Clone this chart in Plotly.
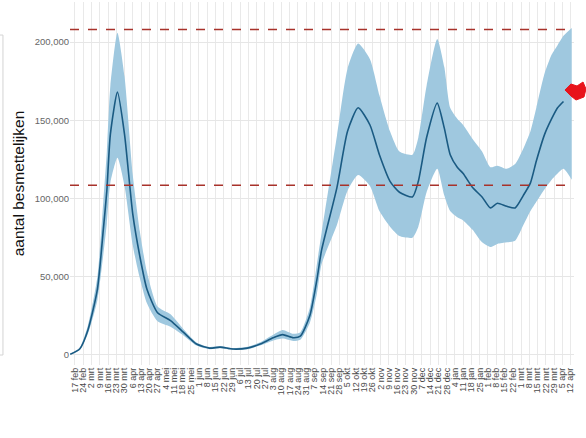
import pandas as pd
import plotly.graph_objects as go

# ---- data ----
line_dates = ["2020-02-13", "2020-02-21", "2020-02-28", "2020-03-07", "2020-03-12", "2020-03-15",
              "2020-03-18", "2020-03-24", "2020-03-30", "2020-04-06", "2020-04-12", "2020-04-18",
              "2020-04-27", "2020-05-08", "2020-05-19", "2020-05-30", "2020-06-10", "2020-06-19",
              "2020-06-30", "2020-07-12", "2020-07-23", "2020-08-03", "2020-08-11", "2020-08-20",
              "2020-08-26", "2020-09-03", "2020-09-09", "2020-09-13", "2020-09-26", "2020-10-05",
              "2020-10-14", "2020-10-24", "2020-11-01", "2020-11-10", "2020-11-18", "2020-11-29",
              "2020-12-04", "2020-12-11", "2020-12-20", "2020-12-26", "2020-12-31", "2021-01-06",
              "2021-01-11", "2021-01-19", "2021-01-27", "2021-02-03", "2021-02-09", "2021-02-17",
              "2021-02-24", "2021-03-03", "2021-03-09", "2021-03-14", "2021-03-21", "2021-03-27",
              "2021-04-01", "2021-04-06"]
besmettelijken = [500, 3800, 16000, 42000, 80000, 105000,
                  141000, 168000, 141000, 90000, 63000, 42000,
                  27000, 22000, 14500, 7000, 4400, 5000,
                  3800, 4400, 7000, 11000, 13000, 11000,
                  12000, 25000, 48000, 67000, 107000, 143000,
                  158000, 147000, 128000, 111000, 104000, 101000,
                  111000, 139000, 161000, 145000, 128000, 120000,
                  116000, 107000, 101000, 94000, 97000, 95000,
                  94000, 102000, 110000, 124000, 141000, 151000,
                  158000, 162000]

band_dates = line_dates + ["2021-04-13"]
band_lower = [300, 3200, 13500, 35000, 64000, 84000,
              110000, 126000, 108000, 70000, 49000, 33000,
              21500, 18000, 12500, 6000, 3700, 4300,
              3200, 3700, 6000, 9200, 10500, 9000,
              9800, 20500, 39000, 58000, 83000, 105000,
              115000, 108000, 92000, 82000, 76000, 75000,
              82000, 104000, 119000, 102000, 92000, 88000,
              86000, 80000, 72000, 69000, 71000, 72000,
              73000, 83000, 92000, 98000, 106000, 112000,
              116000, 119000, 112000]
band_upper = [800, 4600, 19000, 50000, 98000, 130000,
              172000, 206000, 178000, 115000, 79000, 53000,
              31000, 26000, 16500, 8000, 5100, 5700,
              4400, 5200, 8200, 13000, 16000, 13500,
              14500, 30000, 58000, 78000, 140000, 183000,
              199000, 189000, 166000, 143000, 130000, 128000,
              139000, 172000, 202000, 184000, 158000, 151000,
              147000, 138000, 130000, 120000, 121000, 119000,
              122000, 132000, 143000, 158000, 180000, 192000,
              198000, 204000, 209000]

ref_levels = [208000, 108500]

tick_labels = ["17 feb", "24 feb", "2 mrt", "9 mrt", "16 mrt", "23 mrt", "30 mrt", "6 apr", "13 apr",
               "20 apr", "27 apr", "4 mei", "11 mei", "18 mei", "25 mei", "1 jun", "8 jun", "15 jun",
               "22 jun", "29 jun", "6 jul", "13 jul", "20 jul", "27 jul", "3 aug", "10 aug", "17 aug",
               "24 aug", "31 aug", "7 sep", "14 sep", "21 sep", "28 sep", "5 okt", "12 okt", "19 okt",
               "26 okt", "2 nov", "9 nov", "16 nov", "23 nov", "30 nov", "7 dec", "14 dec", "21 dec",
               "28 dec", "4 jan", "11 jan", "18 jan", "25 jan", "1 feb", "8 feb", "15 feb", "22 feb",
               "1 mrt", "8 mrt", "15 mrt", "22 mrt", "29 mrt", "5 apr", "12 apr"]
tick_vals = pd.date_range("2020-02-17", periods=len(tick_labels), freq="7D")

y_ticks = [0, 50000, 100000, 150000, 200000]
y_tick_labels = ["0", "50,000", "100,000", "150,000", "200,000"]

# ---- figure ----
fig = go.Figure()
fig.add_trace(go.Scatter(x=band_dates, y=band_lower, mode="lines",
                         line=dict(width=0, shape="spline", smoothing=0.6),
                         hoverinfo="skip", showlegend=False))
fig.add_trace(go.Scatter(x=band_dates, y=band_upper, mode="lines",
                         line=dict(width=0, shape="spline", smoothing=0.6),
                         fill="tonexty", fillcolor="#9fc8df",
                         hoverinfo="skip", showlegend=False))
fig.add_trace(go.Scatter(x=line_dates, y=besmettelijken, mode="lines",
                         line=dict(color="#1a5a82", width=1.6, shape="spline", smoothing=0.6),
                         showlegend=False))

for lv in ref_levels:
    fig.add_shape(type="line", xref="paper", x0=0, x1=1, yref="y", y0=lv, y1=lv,
                  line=dict(color="#a8322b", width=1.4, dash="dash"), layer="above")

# faint box edge at the left border
fig.add_shape(type="rect", xref="paper", yref="paper", x0=-0.16, x1=-0.133, y0=0.0275, y1=0.909,
              line=dict(color="#d4d4d4", width=1))

# red marker on the right
pts = [(0.9821, 0.7576), (0.9940, 0.7741), (1.0060, 0.7686), (1.0179, 0.7796),
       (1.0238, 0.7603), (1.0198, 0.7383), (1.0040, 0.7300), (0.9940, 0.7410)]
path = "M " + " L ".join(f"{x},{y}" for x, y in pts) + " Z"
fig.add_shape(type="path", xref="paper", yref="paper", path=path,
              fillcolor="#e8131b", line=dict(color="#e8131b", width=1), layer="above")

fig.update_layout(
    width=586, height=438,
    margin=dict(l=70, r=12, t=2, b=73),
    plot_bgcolor="white", paper_bgcolor="white",
    font=dict(family="Liberation Sans, Arial, sans-serif"),
)
fig.update_xaxes(
    type="date",
    range=["2020-02-12T19:00", "2021-04-14T22:00"],
    tickmode="array", tickvals=tick_vals, ticktext=tick_labels,
    tickangle=-90, tickfont=dict(size=9, color="#4a4a4a"),
    showgrid=True, gridcolor="#e9e9e9", gridwidth=1,
    zeroline=False, showline=False, ticks="", automargin=False,
)
fig.update_yaxes(
    range=[-6400, 225600],
    tickmode="array", tickvals=y_ticks, ticktext=y_tick_labels,
    tickfont=dict(size=9.5, color="#666666"),
    showgrid=True, gridcolor="#e6e6e6", gridwidth=1,
    zeroline=False, showline=False, ticks="", automargin=False,
    title=dict(text="aantal besmettelijken", font=dict(size=15.5, color="#111111"), standoff=6),
)

# remove the browser's default body margin so the 586x438 figure fills the window exactly
fig.write_html("out.html", config={"displayModeBar": False},
               post_script="document.body.style.margin='0px';")
